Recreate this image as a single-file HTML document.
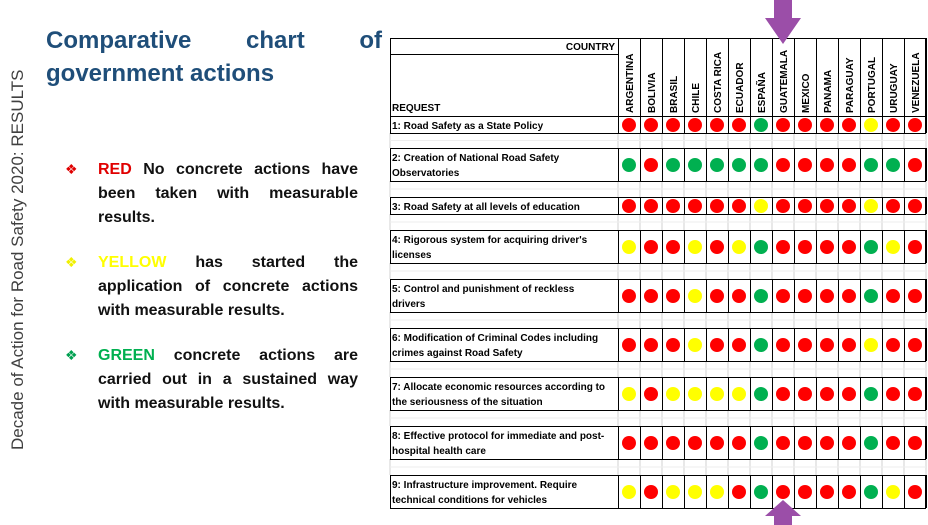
<!DOCTYPE html>
<html><head><meta charset="utf-8"><style>
html,body{margin:0;padding:0;background:#fff;}
body{width:928px;height:525px;position:relative;overflow:hidden;font-family:"Liberation Sans",sans-serif;}
.title{position:absolute;left:46px;top:24px;width:336px;color:#1f4e79;font-weight:bold;font-size:24px;line-height:33px;text-align:justify;text-align-last:left;}
.title .l1{display:flex;justify-content:space-between;}
.vert{position:absolute;left:8px;top:450px;transform-origin:0 0;transform:rotate(-90deg);font-size:17px;color:#404040;white-space:nowrap;width:400px;}
.b{position:absolute;left:98px;width:260px;font-weight:bold;font-size:16px;line-height:24px;color:#111;text-align:justify;}
.m{position:absolute;left:65px;font-size:14px;}
</style></head><body>
<div class="title"><div class="l1"><span>Comparative</span><span>chart</span><span>of</span></div>government actions</div>
<div class="vert">Decade of Action for Road Safety 2020: RESULTS</div>
<div class="m" style="top:161px;color:#e00000">❖</div>
<div class="b" style="top:158px"><span style="color:#e00000">RED</span> No concrete actions have been taken with measurable results.</div>
<div class="m" style="top:254px;color:#f0f000">❖</div>
<div class="b" style="top:251px"><span style="color:#ffff00">YELLOW</span> has started the application of concrete actions with measurable results.</div>
<div class="m" style="top:347px;color:#00a050">❖</div>
<div class="b" style="top:344px"><span style="color:#00b050">GREEN</span> concrete actions are carried out in a sustained way with measurable results.</div>

<svg id="s" width="928" height="525" style="position:absolute;left:0;top:0" font-family="Liberation Sans, sans-serif" font-size="10" font-weight="bold">
<g id="lines"></g>
<polygon points="774,0 792,0 792,18 801,18 783,44 765,18 774,18" fill="#9b4ea8"/>
<polygon points="783,500 801,516 792,516 792,525 774,525 774,516 765,516" fill="#9b4ea8"/>
<text x="615" y="50" text-anchor="end">COUNTRY</text>
<text x="392" y="111">REQUEST</text>
<g id="c">
<text transform="translate(633,113) rotate(-90)">ARGENTINA</text>
<text transform="translate(655,113) rotate(-90)">BOLIVIA</text>
<text transform="translate(677,113) rotate(-90)">BRASIL</text>
<text transform="translate(699,113) rotate(-90)">CHILE</text>
<text transform="translate(721,113) rotate(-90)">COSTA RICA</text>
<text transform="translate(743,113) rotate(-90)">ECUADOR</text>
<text transform="translate(765,113) rotate(-90)">ESPAÑA</text>
<text transform="translate(787,113) rotate(-90)">GUATEMALA</text>
<text transform="translate(809,113) rotate(-90)">MEXICO</text>
<text transform="translate(831,113) rotate(-90)">PANAMA</text>
<text transform="translate(853,113) rotate(-90)">PARAGUAY</text>
<text transform="translate(875,113) rotate(-90)">PORTUGAL</text>
<text transform="translate(897,113) rotate(-90)">URUGUAY</text>
<text transform="translate(919,113) rotate(-90)">VENEZUELA</text>
</g>
<text x="392" y="129">1: Road Safety as a State Policy</text>
<text x="392" y="161">2: Creation of National Road Safety</text><text x="392" y="176">Observatories</text>
<text x="392" y="210">3: Road Safety at all levels of education</text>
<text x="392" y="243">4: Rigorous system for acquiring driver's</text><text x="392" y="258">licenses</text>
<text x="392" y="292">5: Control and punishment of reckless</text><text x="392" y="307">drivers</text>
<text x="392" y="341">6: Modification of Criminal Codes including</text><text x="392" y="356">crimes against Road Safety</text>
<text x="392" y="390">7: Allocate economic resources according to</text><text x="392" y="405">the seriousness of the situation</text>
<text x="392" y="439">8: Effective protocol for immediate and post-</text><text x="392" y="454">hospital health care</text>
<text x="392" y="488">9: Infrastructure improvement. Require</text><text x="392" y="503">technical conditions for vehicles</text>
<g id="dots"></g>
</svg>
<script>
var rows=[[116,17],[148,33],[197,17],[230,33],[279,33],[328,33],[377,33],[426,33],[475,33]];
var d=["RRRRRRGRRRRYRR","GRGGGGGRRRRGGR","RRRRRRYRRRRYRR","YRRYRYGRRRRGYR","RRRYRRGRRRRGRR","RRRYRRGRRRRYRR","YRYYYYGRRRRGRR","RRRRRRGRRRRGRR","YRYYYRGRRRRGYR"];
var col={R:"#ff0000",Y:"#ffff00",G:"#00b050"};
var L="",D="",ns="http://www.w3.org/2000/svg";
function ln(x1,y1,x2,y2,c,w){L+='<line x1="'+x1+'" y1="'+y1+'" x2="'+x2+'" y2="'+y2+'" stroke="'+c+'" stroke-width="'+(w||1)+'"/>';}
// gray gap lines
for(var i=0;i<rows.length-1;i++){var a=rows[i][0]+rows[i][1],b=rows[i+1][0];
 for(var k=0;k<=14;k++)ln(618+22*k,a,618+22*k,b,"#d0d0d0");ln(390,a,390,b,"#d0d0d0");
 ln(390,(a+b)/2,926,(a+b)/2,"#eeeeee");}
// header
L+='<rect x="390.5" y="38.5" width="535" height="78" fill="none" stroke="#000"/>';
ln(390,54.5,618,54.5,"#000");
for(var k=0;k<=14;k++)ln(618.5+22*k,38,618.5+22*k,116,"#000");
rows.forEach(function(r,i){
 L+='<rect x="390.5" y="'+(r[0]+.5)+'" width="535" height="'+r[1]+'" fill="none" stroke="#000"/>';
 for(var k=0;k<=14;k++)ln(618.5+22*k,r[0],618.5+22*k,r[0]+r[1],"#000");
 for(var k=0;k<14;k++)D+='<circle cx="'+(629+22*k)+'" cy="'+(r[0]+r[1]/2+.5)+'" r="7" fill="'+col[d[i][k]]+'"/>';
});
document.getElementById("lines").innerHTML=L;
document.getElementById("dots").innerHTML=D;
</script>
</body></html>
